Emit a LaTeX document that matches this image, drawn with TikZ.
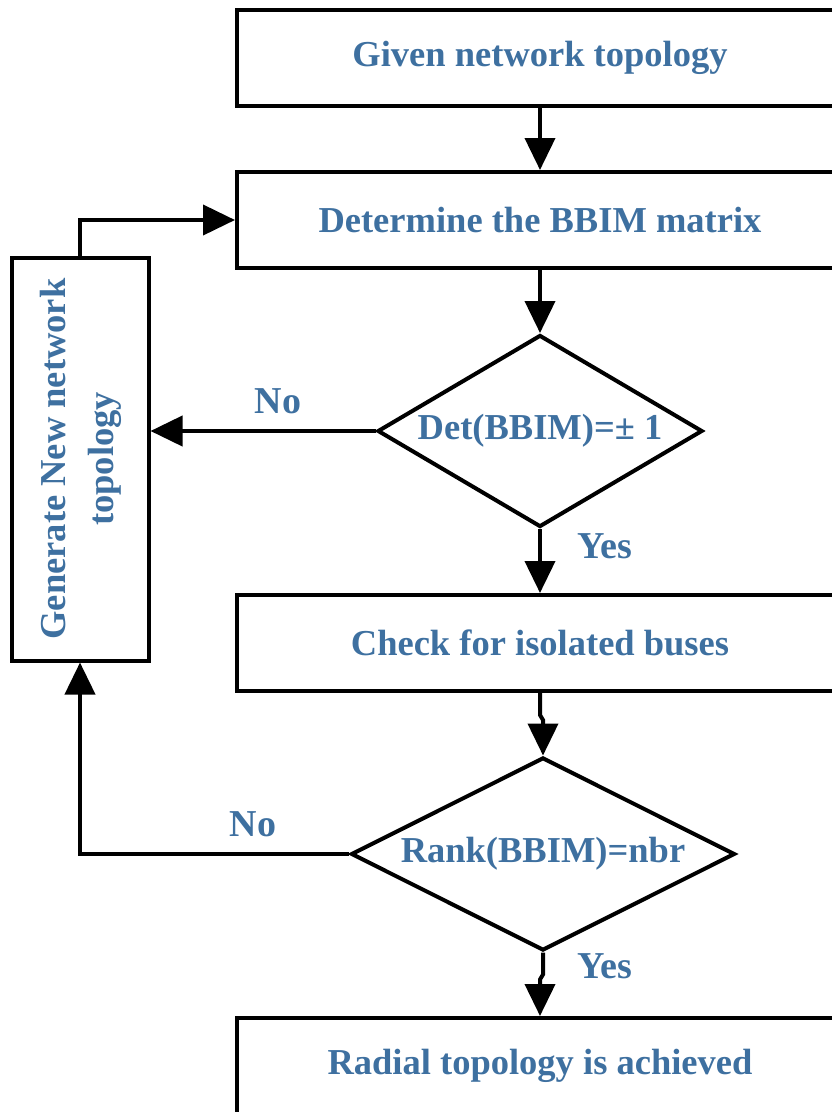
\documentclass[tikz,border=0pt]{standalone}
\usepackage{fontspec}
\setmainfont{Liberation Serif}
\usetikzlibrary{shapes.geometric,arrows.meta}
\definecolor{txtblue}{RGB}{62,112,160}
\tikzset{
  box/.style={draw, line width=4pt, rectangle, minimum width=606pt, minimum height=96pt, inner sep=0pt,
    font=\bfseries\fontsize{36.5}{44}\selectfont, text=txtblue},
  dec/.style={draw, line width=4pt, diamond, inner sep=0pt,
    font=\bfseries\fontsize{36.5}{44}\selectfont, text=txtblue},
  lbl/.style={font=\bfseries\fontsize{38}{44}\selectfont, text=txtblue, inner sep=0pt},
  conn/.style={line width=4pt, -{Triangle[length=32pt,width=30pt]}},
}
\begin{document}
\begin{tikzpicture}[x=1pt,y=-1pt]
\useasboundingbox (0,0) rectangle (832,1112);
\clip (0,0) rectangle (832,1112);
\node[box] (b1) at (540,58) {Given network topology};
\node[box] (b2) at (540,220) {Determine the BBIM matrix};
\node[dec, minimum width=325pt, minimum height=192pt, aspect=1.69] (d1) at (540,431) {Det(BBIM)=± 1};
\node[box] (b3) at (540,643) {Check for isolated buses};
\node[dec, minimum width=384pt, minimum height=193pt, aspect=1.99] (d2) at (543,854) {Rank(BBIM)=nbr};
\node[box] (b4) at (540,1066) {Radial topology is achieved};
\node[draw, line width=4pt, rectangle, minimum width=137pt, minimum height=403pt, inner sep=0pt,
  font=\bfseries\fontsize{36.5}{48}\selectfont, text=txtblue] (gen) at (80,459)
  {\rotatebox{90}{\begin{tabular}{@{}c@{}}Generate New network\\topology\end{tabular}}};
\node[lbl] (no1) at (278,401) {No};
\node[lbl] (yes1) at (605,546) {Yes};
\node[lbl] (no2) at (253,824) {No};
\node[lbl] (yes2) at (605,966) {Yes};
\draw[conn] (b1.south) -- (b2.north);
\draw[conn] (b2.south) -- (d1.north);
\draw[conn] (d1.south) -- (b3.north);
\draw[conn] (b3.south) -- ++(0,22) -- ++(3,5) -- (d2.north);
\draw[conn] (d2.south) -- ++(0,22) -- ++(-3,5) -- (b4.north);
\draw[conn] (d1.west) -- (d1.west -| gen.east);
\draw[conn] (d2.west) -| (gen.south);
\draw[conn] (gen.north) |- (b2.west);
\end{tikzpicture}
\end{document}
